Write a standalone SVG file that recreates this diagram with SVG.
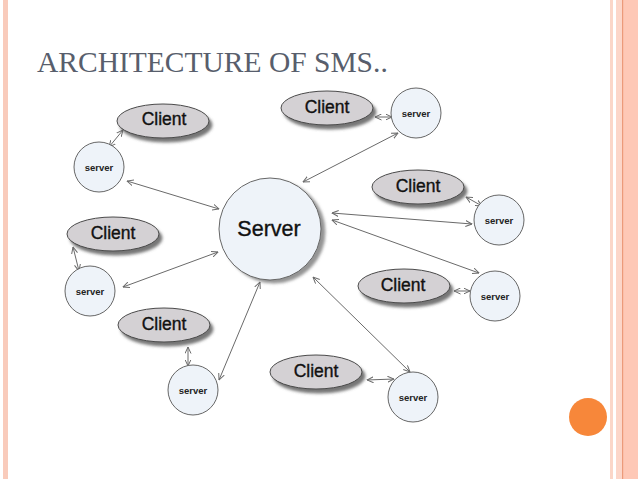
<svg xmlns="http://www.w3.org/2000/svg" width="638" height="479" viewBox="0 0 638 479">
<defs>
<style>
.title{font-family:"Liberation Serif","Times New Roman",serif;font-size:29.5px;fill:#585e6c}
.cl{fill:#d4d1d4;stroke:#4a4a4a;stroke-width:1}
.clt{font-family:"Liberation Sans",Arial,sans-serif;font-size:17.5px;fill:#111;stroke:#111;stroke-width:0.35;text-anchor:middle}
.sv{fill:#eef3f9;stroke:#666;stroke-width:1}
.svt{font-family:"Liberation Sans",Arial,sans-serif;font-size:9.5px;font-weight:bold;fill:#222;text-anchor:middle}
.big{font-family:"Liberation Sans",Arial,sans-serif;font-size:21.5px;fill:#111;stroke:#111;stroke-width:0.35;text-anchor:middle}
.ln{stroke:#6a6a6a;stroke-width:1;fill:none;marker-start:url(#ah);marker-end:url(#ah)}
</style>
<filter id="sh" x="-20%" y="-30%" width="150%" height="170%">
<feDropShadow dx="3" dy="4" stdDeviation="1.5" flood-color="#555" flood-opacity="0.8"/>
</filter>
<filter id="sh2" x="-20%" y="-20%" width="150%" height="150%">
<feDropShadow dx="4" dy="3" stdDeviation="1.5" flood-color="#666" flood-opacity="0.7"/>
</filter>
<marker id="ah" viewBox="0 0 7 7" refX="6.5" refY="3.5" markerWidth="7" markerHeight="7" markerUnits="userSpaceOnUse" orient="auto-start-reverse">
<path d="M0,0.5 L6.5,3.5 L0,6.5" fill="none" stroke="#6a6a6a" stroke-width="1"/>
</marker>
</defs>
<rect width="638" height="479" fill="#fff"/>
<g id="borders">
<rect x="3" y="0" width="5" height="479" fill="#f9cbbb"/>
<rect x="610" y="0" width="3" height="479" fill="#fbd6c8"/>
<rect x="616" y="0" width="22" height="479" fill="#fec8b6"/>
<rect x="616" y="0" width="6" height="479" fill="#fcd6c9"/>
<rect x="622" y="0" width="1.2" height="479" fill="#ec9a7a"/>
</g>
<text class="title" x="37" y="72">ARCHITECTURE OF SMS..</text>
<circle id="dot" cx="588" cy="417" r="19" fill="#f7873a"/>
<g id="connectors">
<line class="ln" x1="123" y1="130" x2="109" y2="147"/>
<line class="ln" x1="127" y1="181" x2="219" y2="209"/>
<line class="ln" x1="73" y1="247" x2="79" y2="271"/>
<line class="ln" x1="123" y1="287" x2="218" y2="252"/>
<line class="ln" x1="303" y1="182" x2="398" y2="133"/>
<line class="ln" x1="375" y1="117" x2="392" y2="117"/>
<line class="ln" x1="466" y1="197" x2="482" y2="206"/>
<line class="ln" x1="332" y1="213" x2="472" y2="224"/>
<line class="ln" x1="332" y1="220" x2="479" y2="273"/>
<line class="ln" x1="454" y1="291" x2="470" y2="291"/>
<line class="ln" x1="313" y1="277" x2="410" y2="372"/>
<line class="ln" x1="367" y1="380" x2="394" y2="379"/>
<line class="ln" x1="188" y1="347" x2="188" y2="366"/>
<line class="ln" x1="260" y1="282" x2="219" y2="380"/>
</g>
<g id="Server">
<circle class="sv" cx="270" cy="229" r="51" filter="url(#sh2)"/>
<text class="big" x="269" y="236">Server</text>
</g>
<g id="client1"><ellipse class="cl" cx="163" cy="121" rx="46" ry="17" filter="url(#sh)"/><text class="clt" x="164" y="125">Client</text></g>
<g id="client2"><ellipse class="cl" cx="327" cy="108" rx="46" ry="17" filter="url(#sh)"/><text class="clt" x="327" y="113">Client</text></g>
<g id="client3"><ellipse class="cl" cx="418" cy="187" rx="46" ry="17" filter="url(#sh)"/><text class="clt" x="418" y="192">Client</text></g>
<g id="client4"><ellipse class="cl" cx="113" cy="234" rx="46" ry="17" filter="url(#sh)"/><text class="clt" x="113" y="239">Client</text></g>
<g id="client5"><ellipse class="cl" cx="404" cy="286" rx="46" ry="17" filter="url(#sh)"/><text class="clt" x="403" y="291">Client</text></g>
<g id="client6"><ellipse class="cl" cx="164" cy="325" rx="46" ry="17" filter="url(#sh)"/><text class="clt" x="164" y="330">Client</text></g>
<g id="client7"><ellipse class="cl" cx="316" cy="372" rx="46" ry="17" filter="url(#sh)"/><text class="clt" x="316" y="377">Client</text></g>
<g id="serverA"><circle class="sv" cx="99" cy="167" r="25"/><text class="svt" x="99" y="171">server</text></g>
<g id="serverB"><circle class="sv" cx="416" cy="113" r="25"/><text class="svt" x="416" y="117">server</text></g>
<g id="serverC"><circle class="sv" cx="499" cy="220" r="25"/><text class="svt" x="499" y="224">server</text></g>
<g id="serverD"><circle class="sv" cx="90" cy="291" r="25"/><text class="svt" x="90" y="295">server</text></g>
<g id="serverE"><circle class="sv" cx="495" cy="296" r="25"/><text class="svt" x="495" y="300">server</text></g>
<g id="serverF"><circle class="sv" cx="193" cy="390" r="25"/><text class="svt" x="193" y="394">server</text></g>
<g id="serverG"><circle class="sv" cx="413" cy="397" r="25"/><text class="svt" x="413" y="401">server</text></g>
</svg>
